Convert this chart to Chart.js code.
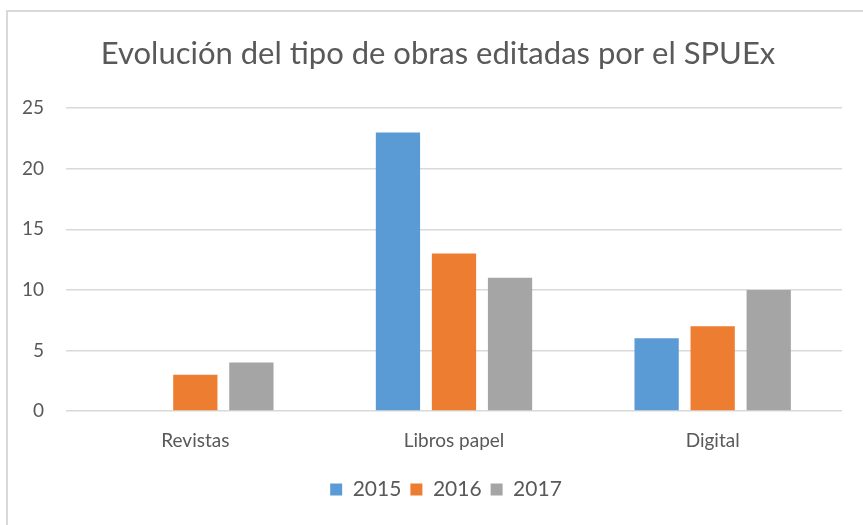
<!DOCTYPE html>
<html>
<head>
<meta charset="utf-8">
<script src="https://cdn.jsdelivr.net/npm/chart.js@4"></script>
<style>
  html, body { margin: 0; padding: 0; background: #fff; overflow: hidden; }
  #wrap { position: relative; width: 863px; height: 525px; }
  #frame { position: absolute; left: 6px; top: 10px; width: 900px; height: 600px; border: 2px solid #d9d9d9; box-sizing: border-box; }
  #chart { position: absolute; left: 0; top: 0; }
</style>
</head>
<body>
<div id="wrap">
  <div id="frame"></div>
  <canvas id="chart" width="863" height="525"></canvas>
</div>
<script>
const categories = ['Revistas', 'Libros papel', 'Digital'];
const years = ['2015', '2016', '2017'];
const values2015 = [0, 23, 6];
const values2016 = [3, 13, 7];
const values2017 = [4, 11, 10];
const colors = ['#5b9bd5', '#ed7d31', '#a5a5a5'];

const textColor = '#595959';
const fontFamily = 'Lato, "Open Sans", sans-serif';

// the original chart box runs past the right edge, so title and legend sit a bit right of the plot centre
const shiftBlocks = {
  id: 'shiftBlocks',
  afterLayout(chart) {
    if (chart.titleBlock) chart.titleBlock.left += 34;
    if (chart.legend) chart.legend.left += 50;
  }
};

new Chart(document.getElementById('chart').getContext('2d'), {
  type: 'bar',
  data: {
    labels: categories,
    datasets: [
      { label: years[0], data: values2015, backgroundColor: colors[0] },
      { label: years[1], data: values2016, backgroundColor: colors[1] },
      { label: years[2], data: values2017, backgroundColor: colors[2] }
    ]
  },
  plugins: [shiftBlocks],
  options: {
    responsive: false,
    animation: false,
    categoryPercentage: 0.65,
    barPercentage: 0.79,
    layout: { padding: { left: 0, right: 21, top: 0, bottom: 15 } },
    plugins: {
      title: {
        display: true,
        text: 'Evolución del tipo de obras editadas por el SPUEx',
        color: textColor,
        font: { family: fontFamily, size: 31, weight: 'normal' },
        padding: { top: 35, bottom: 36 }
      },
      legend: {
        position: 'bottom',
        labels: {
          color: textColor,
          font: { family: fontFamily, size: 21 },
          boxWidth: 12,
          boxHeight: 12,
          padding: 9
        }
      },
      tooltip: { enabled: false }
    },
    scales: {
      x: {
        grid: { display: false, drawTicks: false },
        border: { display: false },
        ticks: { color: textColor, font: { family: fontFamily, size: 19 }, padding: 18 },
        afterFit: s => { s.height = 59; }
      },
      y: {
        min: 0,
        max: 25,
        ticks: { stepSize: 5, color: textColor, font: { family: fontFamily, size: 19 }, padding: 22 },
        grid: { color: '#d9d9d9', lineWidth: 1.5, drawTicks: false },
        border: { display: false },
        afterFit: s => { s.width = 66; }
      }
    }
  }
});
</script>
</body>
</html>
